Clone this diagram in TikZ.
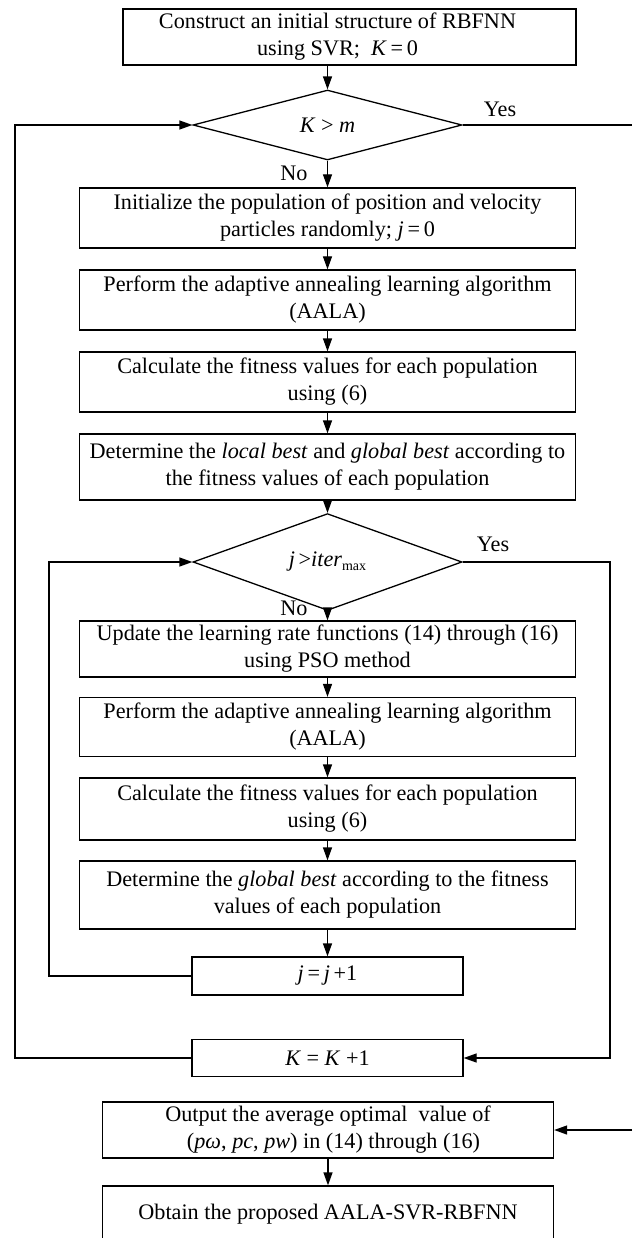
\documentclass[tikz,border=0pt]{standalone}
\usepackage{fontspec}
\setmainfont{Liberation Serif}
\usetikzlibrary{arrows.meta,shapes.geometric}
\begin{document}
\begin{tikzpicture}[x=1pt,y=-1pt,
  every node/.style={font=\fontsize{22.2}{27}\selectfont},
  box/.style={draw, line width=1.3pt, rectangle, inner sep=0pt, align=center},
  wbox/.style={box, minimum width=496pt},
  dia/.style={draw, line width=1.3pt, diamond, inner sep=0pt, minimum width=269pt, minimum height=67pt},
  line/.style={line width=1.3pt},
  arr/.style={line width=1.3pt, -{Triangle[length=13pt,width=9pt]}},
  lbl/.style={inner sep=0pt}]
\clip (0,0) rectangle (632,1238);
\fill[white] (0,0) rectangle (632,1238);
\node[box, minimum width=453pt, minimum height=56pt] (b1) at (349.5,37) {Construct an initial structure of RBFNN\hspace*{24pt}\\using SVR;\ \ \textit{K}\,=\,0\hspace*{24pt}};
\node[dia] (d1) at (327.5,125) {\textit{K} > \textit{m}};
\node[wbox, minimum height=60pt] (b2) at (327.5,218) {Initialize the population of position and velocity\\particles randomly;\ \textit{j}\,=\,0};
\node[wbox, minimum height=60pt] (b3) at (327.5,300) {Perform the adaptive annealing learning algorithm\\(AALA)};
\node[wbox, minimum height=60pt] (b4) at (327.5,382) {Calculate the fitness values for each population\\using (6)};
\node[wbox, minimum height=66pt] (b5) at (327.5,467) {Determine the \textit{local best} and \textit{global best} according to\\the fitness values of each population};
\node[dia] (d2) at (327.5,562) {\textit{j}\,>\textit{iter}\raisebox{-0.35ex}{\fontsize{14}{14}\selectfont max}};
\node[wbox, minimum height=56pt] (b6) at (327.5,649) {Update the learning rate functions (14) through (16)\\using PSO method};
\node[wbox, minimum height=59pt] (b7) at (327.5,727) {Perform the adaptive annealing learning algorithm\\(AALA)};
\node[wbox, minimum height=62pt] (b8) at (327.5,809) {Calculate the fitness values for each population\\using (6)};
\node[wbox, minimum height=68pt] (b9) at (327.5,895) {Determine the \textit{global best} according to the fitness\\values of each population};
\node[box, minimum width=271pt, minimum height=38pt] (bj) at (327.5,976) {\textit{j}\,=\,\textit{j}\,+1};
\node[box, minimum width=271pt, minimum height=37pt] (bK) at (327.5,1058) {\textit{K} = \textit{K} +1};
\node[box, minimum width=451pt, minimum height=56pt] (bo) at (328,1130) {Output the average optimal\ \ value of\\\ \ (\textit{pω}, \textit{pc}, \textit{pw})\ in (14) through (16)};
\node[box, minimum width=451pt, minimum height=56pt] (bf) at (328,1214) {Obtain the proposed AALA-SVR-RBFNN};
\node[lbl] (no1) at (294,173) {No};
\node[lbl] (no2) at (294,608) {No};
\node[lbl] (yes1) at (500,109) {Yes};
\node[lbl] (yes2) at (493,544) {Yes};
\coordinate (yesEnd) at (632,125);
\coordinate (outIn) at (632,1130);
\coordinate (rx) at (610,0);
\coordinate (lx) at (15,0);
\coordinate (ix) at (49,0);
\draw[arr] (b1.south -| d1.north) -- (d1.north);
\draw[arr] (d1.south) -- (b2.north);
\draw[arr] (b2.south) -- (b3.north);
\draw[arr] (b3.south) -- (b4.north);
\draw[arr] (b4.south) -- (b5.north);
\draw[arr] (b5.south) -- (d2.north);
\draw[arr] (d2.south) -- (b6.north);
\draw[arr] (b6.south) -- (b7.north);
\draw[arr] (b7.south) -- (b8.north);
\draw[arr] (b8.south) -- (b9.north);
\draw[arr] (b9.south) -- (bj.north);
\draw[line] (d1.east) -- (yesEnd);
\draw[arr] (d2.east) -- (d2.east -| rx) |- (bK.east);
\draw[arr] (bK.west) -- (bK.west -| lx) |- (d1.west);
\draw[arr] (bj.west) -- (bj.west -| ix) |- (d2.west);
\draw[arr] (outIn) -- (bo.east);
\draw[arr] (bo.south) -- (bf.north);
\end{tikzpicture}
\end{document}
